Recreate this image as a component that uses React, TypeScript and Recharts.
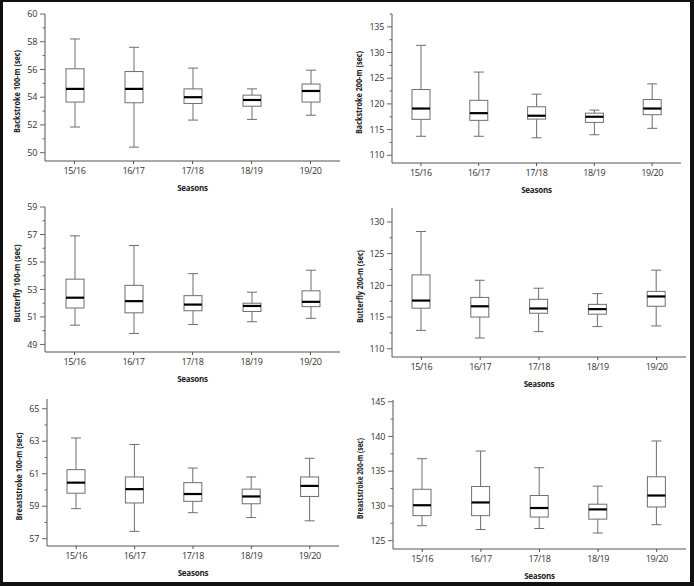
import React from "react";
import { BarChart, Bar, XAxis, YAxis } from "recharts";

const SEASONS = ["15/16", "16/17", "17/18", "18/19", "19/20"];

// Backstroke 100-m (sec)
const BACK100_MAX = [58.2, 57.6, 56.1, 54.6, 55.95];
const BACK100_Q3 = [56.05, 55.85, 54.6, 54.15, 54.95];
const BACK100_MED = [54.6, 54.6, 54.0, 53.8, 54.45];
const BACK100_Q1 = [53.65, 53.6, 53.55, 53.35, 53.65];
const BACK100_MIN = [51.85, 50.4, 52.35, 52.4, 52.7];

// Backstroke 200-m (sec)
const BACK200_MAX = [131.4, 126.2, 121.9, 118.8, 123.9];
const BACK200_Q3 = [122.8, 120.7, 119.45, 118.2, 120.85];
const BACK200_MED = [119.1, 118.2, 117.7, 117.5, 119.1];
const BACK200_Q1 = [117.0, 116.8, 117.05, 116.4, 117.9];
const BACK200_MIN = [113.7, 113.7, 113.4, 114.0, 115.25];

// Butterfly 100-m (sec)
const FLY100_MAX = [56.9, 56.2, 54.15, 52.8, 54.4];
const FLY100_Q3 = [53.75, 53.3, 52.55, 52.0, 52.9];
const FLY100_MED = [52.4, 52.15, 51.9, 51.8, 52.1];
const FLY100_Q1 = [51.65, 51.3, 51.45, 51.4, 51.75];
const FLY100_MIN = [50.4, 49.8, 50.45, 50.65, 50.9];

// Butterfly 200-m (sec)
const FLY200_MAX = [128.5, 120.8, 119.55, 118.7, 122.4];
const FLY200_Q3 = [121.65, 118.1, 117.8, 117.0, 119.05];
const FLY200_MED = [117.6, 116.7, 116.35, 116.25, 118.25];
const FLY200_Q1 = [116.4, 115.0, 115.6, 115.45, 116.7];
const FLY200_MIN = [112.9, 111.7, 112.7, 113.5, 113.6];

// Breaststroke 100-m (sec)
const BREAST100_MAX = [63.2, 62.8, 61.35, 60.8, 61.95];
const BREAST100_Q3 = [61.25, 60.8, 60.45, 60.05, 60.8];
const BREAST100_MED = [60.45, 60.05, 59.75, 59.6, 60.25];
const BREAST100_Q1 = [59.8, 59.2, 59.3, 59.15, 59.6];
const BREAST100_MIN = [58.85, 57.45, 58.6, 58.3, 58.1];

// Breaststroke 200-m (sec)
const BREAST200_MAX = [136.8, 137.9, 135.5, 132.85, 139.35];
const BREAST200_Q3 = [132.4, 132.8, 131.5, 130.25, 134.2];
const BREAST200_MED = [130.1, 130.5, 129.7, 129.5, 131.5];
const BREAST200_Q1 = [128.6, 128.6, 128.4, 128.1, 129.85];
const BREAST200_MIN = [127.15, 126.6, 126.75, 126.1, 127.3];

// y axis: labelled ticks and the unlabelled minor ticks
const BACK100_TICKS = [50, 52, 54, 56, 58, 60];
const BACK100_MINOR = [51, 53, 55, 57, 59];
const BACK200_TICKS = [110, 115, 120, 125, 130, 135];
const BACK200_MINOR = [112.5, 117.5, 122.5, 127.5, 132.5, 137.5];
const FLY100_TICKS = [49, 51, 53, 55, 57, 59];
const FLY100_MINOR = [50, 52, 54, 56, 58];
const FLY200_TICKS = [110, 115, 120, 125, 130];
const FLY200_MINOR = [112.5, 117.5, 122.5, 127.5];
const BREAST100_TICKS = [57, 59, 61, 63, 65];
const BREAST100_MINOR = [58, 60, 62, 64];
const BREAST200_TICKS = [125, 130, 135, 140, 145];
const BREAST200_MINOR = [127.5, 132.5, 137.5, 142.5];

const FONT = "'Open Sans', sans-serif";

function rows(min: number[], q1: number[], med: number[], q3: number[], max: number[]) {
  return SEASONS.map((season, i) => ({
    season,
    min: min[i],
    q1: q1[i],
    med: med[i],
    q3: q3[i],
    max: max[i],
  }));
}

function BoxShape(props: any) {
  const { x, y, width, height, payload } = props;
  if (!payload) return null;
  const top = Math.min(y, y + height);
  const h = Math.abs(height);
  const span = payload.max - payload.min || 1;
  const py = (v: number) => top + ((payload.max - v) / span) * h;
  const cx = x + width / 2;
  const cap = 5;
  return (
    <g>
      <line x1={cx} x2={cx} y1={py(payload.max)} y2={py(payload.q3)} stroke="#6e6e6e" />
      <line x1={cx} x2={cx} y1={py(payload.q1)} y2={py(payload.min)} stroke="#6e6e6e" />
      <line x1={cx - cap} x2={cx + cap} y1={py(payload.max)} y2={py(payload.max)} stroke="#6e6e6e" />
      <line x1={cx - cap} x2={cx + cap} y1={py(payload.min)} y2={py(payload.min)} stroke="#6e6e6e" />
      <rect
        x={x}
        y={py(payload.q3)}
        width={width}
        height={py(payload.q1) - py(payload.q3)}
        fill="#fff"
        stroke="#6e6e6e"
      />
      <line x1={x} x2={x + width} y1={py(payload.med)} y2={py(payload.med)} stroke="#000" strokeWidth={2.2} />
    </g>
  );
}

function YTick(props: any) {
  const { x, y, payload, majors } = props;
  const major = majors.includes(payload.value);
  return (
    <g>
      <line x1={x + (major ? 3 : 5.5)} x2={x + 8} y1={y} y2={y} stroke="#666" />
      {major && (
        <text
          x={x}
          y={y}
          dy={3.2}
          textAnchor="end"
          fontSize={9}
          fill="#333"
          fontFamily={FONT}
          letterSpacing={-0.3}
        >
          {payload.value}
        </text>
      )}
    </g>
  );
}

function XTick(props: any) {
  const { x, y, payload } = props;
  return (
    <text x={x} y={y} dy={7} textAnchor="middle" fontSize={9} fill="#333" fontFamily={FONT} letterSpacing={-0.4}>
      {payload.value}
    </text>
  );
}

function XTitle(props: any) {
  const vb = props.viewBox || { x: 0, y: 0, width: 0, height: 0 };
  return (
    <text
      x={vb.x + vb.width / 2}
      y={vb.y + 30}
      textAnchor="middle"
      fontSize={8}
      fontWeight={700}
      fill="#222"
      fontFamily={FONT}
      letterSpacing={-0.2}
    >
      Seasons
    </text>
  );
}

function YTitle(props: any) {
  const vb = props.viewBox || { x: 0, y: 0, width: 0, height: 0 };
  const x = props.dx;
  const y = vb.y + vb.height / 2 + 4;
  return (
    <text
      x={x}
      y={y}
      transform={`rotate(-90 ${x} ${y})`}
      textAnchor="middle"
      fontSize={8.5}
      fontWeight={700}
      fill="#222"
      fontFamily={FONT}
      textLength={props.len}
      lengthAdjust="spacingAndGlyphs"
    >
      {props.text}
    </text>
  );
}

interface PanelProps {
  left: number;
  top: number;
  height: number;
  margin: { top: number; right: number; bottom: number; left: number };
  axisWidth: number;
  data: ReturnType<typeof rows>;
  domain: [number, number];
  ticks: number[];
  minor: number[];
  title: string;
  titleX: number;
  titleLen: number;
}

function Panel(p: PanelProps) {
  const allTicks = [...p.ticks, ...p.minor].filter((t) => t >= p.domain[0] && t <= p.domain[1]);
  return (
    <div style={{ position: "absolute", left: p.left, top: p.top }}>
      <BarChart width={347} height={p.height} data={p.data} margin={p.margin}>
        <XAxis
          dataKey="season"
          interval={0}
          height={30}
          tickSize={3}
          tickMargin={3}
          axisLine={{ stroke: "#555" }}
          tickLine={{ stroke: "#555" }}
          tick={<XTick />}
          label={<XTitle />}
        />
        <XAxis
          xAxisId="top"
          orientation="top"
          dataKey="season"
          height={0}
          tick={false}
          tickLine={false}
          axisLine={{ stroke: "#aaa" }}
        />
        <YAxis
          width={p.axisWidth}
          domain={p.domain}
          allowDataOverflow
          ticks={allTicks}
          interval={0}
          tickSize={5}
          tickMargin={3}
          tickLine={false}
          axisLine={{ stroke: "#555" }}
          tick={(tp: any) => <YTick {...tp} majors={p.ticks} />}
          label={<YTitle text={p.title} dx={p.titleX} len={p.titleLen} />}
        />
        <YAxis
          yAxisId="right"
          orientation="right"
          width={0}
          domain={p.domain}
          allowDataOverflow
          tick={false}
          tickLine={false}
          axisLine={{ stroke: "#aaa" }}
        />
        <Bar
          dataKey={(d: any) => [d.min, d.max]}
          barSize={18}
          shape={<BoxShape />}
          isAnimationActive={false}
        />
      </BarChart>
    </div>
  );
}

export default function App() {
  return (
    <div style={{ position: "relative", width: 694, height: 586, background: "#fff", overflow: "hidden" }}>
      <style>{"body{margin:0}"}</style>
      <Panel
        left={0}
        top={0}
        height={195}
        margin={{ top: 14, right: 7, bottom: 4, left: 0 }}
        axisWidth={45}
        data={rows(BACK100_MIN, BACK100_Q1, BACK100_MED, BACK100_Q3, BACK100_MAX)}
        domain={[49.4, 60]}
        ticks={BACK100_TICKS}
        minor={BACK100_MINOR}
        title="Backstroke 100-m (sec)"
        titleX={20}
        titleLen={83}
      />
      <Panel
        left={347}
        top={0}
        height={195}
        margin={{ top: 14, right: 13, bottom: 2, left: 0 }}
        axisWidth={45}
        data={rows(BACK200_MIN, BACK200_Q1, BACK200_MED, BACK200_Q3, BACK200_MAX)}
        domain={[108.5, 137.5]}
        ticks={BACK200_TICKS}
        minor={BACK200_MINOR}
        title="Backstroke 200-m (sec)"
        titleX={14.5}
        titleLen={83}
      />
      <Panel
        left={0}
        top={195}
        height={195}
        margin={{ top: 12, right: 7, bottom: 8, left: 0 }}
        axisWidth={45}
        data={rows(FLY100_MIN, FLY100_Q1, FLY100_MED, FLY100_Q3, FLY100_MAX)}
        domain={[48.45, 59]}
        ticks={FLY100_TICKS}
        minor={FLY100_MINOR}
        title="Butterfly 100-m (sec)"
        titleX={19.5}
        titleLen={78}
      />
      <Panel
        left={347}
        top={195}
        height={195}
        margin={{ top: 13, right: 8, bottom: 3, left: 0 }}
        axisWidth={45}
        data={rows(FLY200_MIN, FLY200_Q1, FLY200_MED, FLY200_Q3, FLY200_MAX)}
        domain={[108.7, 132.2]}
        ticks={FLY200_TICKS}
        minor={FLY200_MINOR}
        title="Butterfly 200-m (sec)"
        titleX={15.5}
        titleLen={73}
      />
      <Panel
        left={0}
        top={390}
        height={196}
        margin={{ top: 9, right: 8, bottom: 10, left: 0 }}
        axisWidth={47}
        data={rows(BREAST100_MIN, BREAST100_Q1, BREAST100_MED, BREAST100_Q3, BREAST100_MAX)}
        domain={[56.55, 65.6]}
        ticks={BREAST100_TICKS}
        minor={BREAST100_MINOR}
        title="Breaststroke 100-m (sec)"
        titleX={22}
        titleLen={88}
      />
      <Panel
        left={347}
        top={390}
        height={196}
        margin={{ top: 10, right: 8, bottom: 7, left: 0 }}
        axisWidth={46}
        data={rows(BREAST200_MIN, BREAST200_Q1, BREAST200_MED, BREAST200_Q3, BREAST200_MAX)}
        domain={[123.8, 145.25]}
        ticks={BREAST200_TICKS}
        minor={BREAST200_MINOR}
        title="Breaststroke 200-m (sec)"
        titleX={16}
        titleLen={81}
      />
      <div
        style={{
          position: "absolute",
          inset: 0,
          boxSizing: "border-box",
          borderStyle: "solid",
          borderColor: "#111",
          borderWidth: "2px 4px 4px 3px",
          pointerEvents: "none",
        }}
      />
    </div>
  );
}
